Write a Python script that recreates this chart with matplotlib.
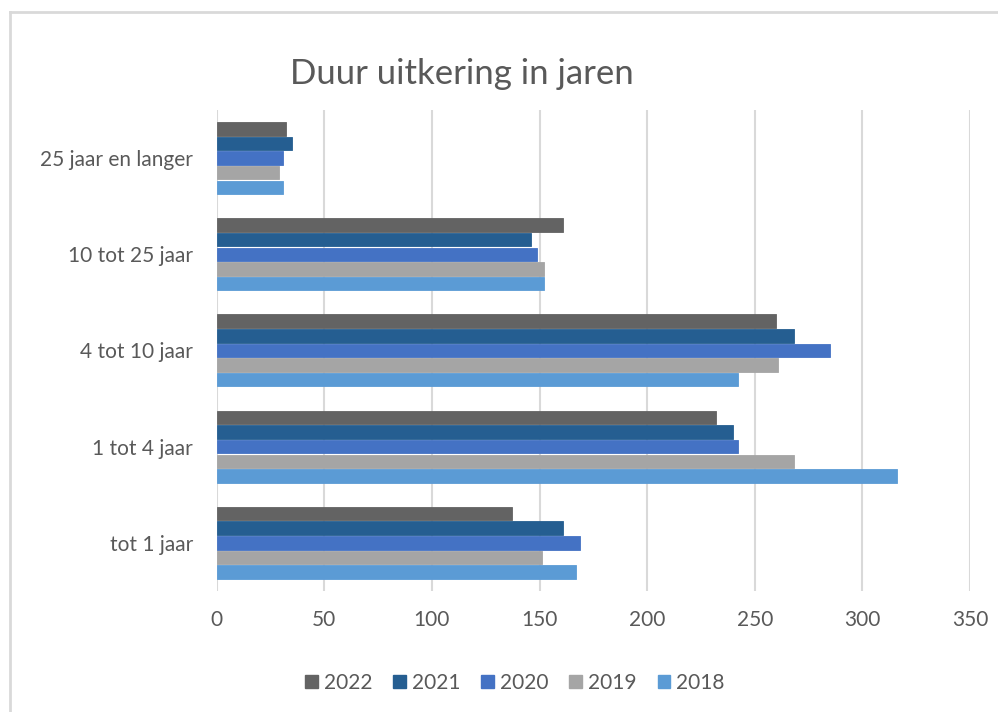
import numpy as np
import matplotlib.pyplot as plt
from matplotlib.lines import Line2D
from matplotlib.patches import Patch

plt.rcParams['font.family'] = ['Lato', 'DejaVu Sans']

categories = ["tot 1 jaar", "1 tot 4 jaar", "4 tot 10 jaar", "10 tot 25 jaar", "25 jaar en langer"]
years = ["2022", "2021", "2020", "2019", "2018"]
values = {
    "2022": [137, 232, 260, 161, 32],
    "2021": [161, 240, 268, 146, 35],
    "2020": [169, 242, 285, 149, 31],
    "2019": [151, 268, 261, 152, 29],
    "2018": [167, 316, 242, 152, 31],
}
colors = {
    "2022": "#636363",
    "2021": "#255E91",
    "2020": "#4472C4",
    "2019": "#A5A5A5",
    "2018": "#5B9BD5",
}
xticks = [0, 50, 100, 150, 200, 250, 300, 350]

text_color = "#595959"
grid_color = "#D9D9D9"

fig = plt.figure(figsize=(9.98, 7.12), dpi=100)
ax = fig.add_axes([0.2171, 0.170, 0.7549, 0.6756])

y = np.arange(len(categories))
step = 0.152
for i, yr in enumerate(years):
    offset = (2 - i) * step
    ax.barh(y + offset, values[yr], height=step - 0.012, color=colors[yr],
            edgecolor=colors[yr], linewidth=0.6, zorder=3)

ax.set_xlim(0, 350)
ax.set_ylim(-0.5, len(categories) - 0.5)
ax.set_xticks(xticks)
ax.set_xticklabels([str(t) for t in xticks])
ax.set_yticks(y)
ax.set_yticklabels(categories)
ax.tick_params(axis='both', length=0, labelsize=15, colors=text_color)
ax.tick_params(axis='y', pad=17)
ax.tick_params(axis='x', pad=14)
ax.grid(axis='x', color=grid_color, linewidth=1.5, zorder=0)
for s in ax.spines.values():
    s.set_visible(False)

fig.text(0.463, 0.896, "Duur uitkering in jaren", ha='center', va='center',
         fontsize=25, color=text_color)

handles = [Patch(facecolor=colors[yr], edgecolor=colors[yr]) for yr in years]
fig.legend(handles, years, loc='center', bbox_to_anchor=(0.516, 0.041), ncol=5,
           frameon=False, fontsize=15, labelcolor=text_color,
           handlelength=0.6, handleheight=0.6, handletextpad=0.3,
           columnspacing=1.0)

# chart area border (left and top edges visible)
fig.add_artist(Line2D([0.0100, 0.0100], [0.0, 0.983], transform=fig.transFigure,
                      color="#D9D9D9", linewidth=2))
fig.add_artist(Line2D([0.0100, 1.0], [0.983, 0.983], transform=fig.transFigure,
                      color="#D9D9D9", linewidth=2))

fig.savefig("out.png", dpi=100, facecolor="white")
